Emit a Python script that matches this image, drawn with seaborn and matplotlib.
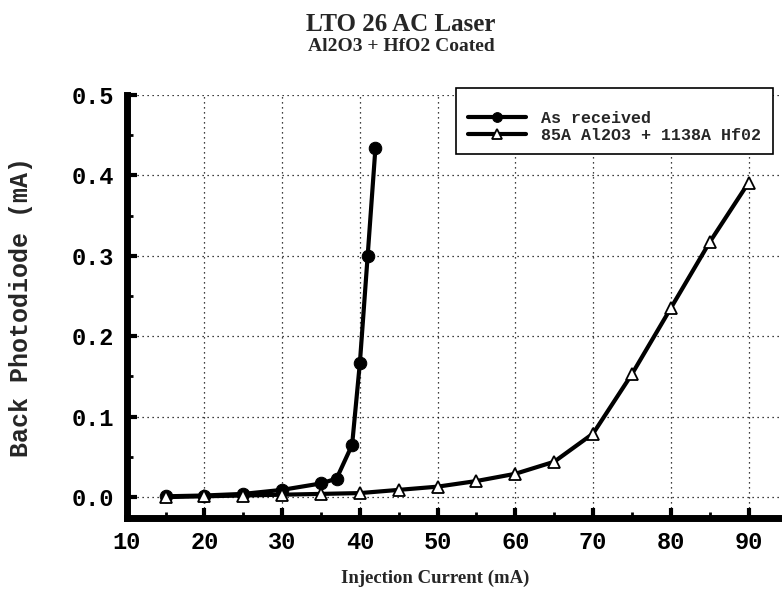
import numpy as np
import pandas as pd
import seaborn as sns
import matplotlib.pyplot as plt
from matplotlib.ticker import MultipleLocator

# Data
current_received = [15, 20, 25, 30, 35, 37, 39, 40, 41, 42]
photo_received = [0.001, 0.002, 0.004, 0.009, 0.017, 0.023, 0.065, 0.167, 0.300, 0.434]

current_coated = [15, 20, 25, 30, 35, 40, 45, 50, 55, 60, 65, 70, 75, 80, 85, 90]
photo_coated = [0.000, 0.001, 0.002, 0.003, 0.004, 0.005, 0.009, 0.013, 0.020,
                0.029, 0.044, 0.079, 0.153, 0.235, 0.317, 0.391]

label_received = "As received"
label_coated = "85A Al2O3 + 1138A Hf02"

sns.set_style("ticks")
mono = ["Liberation Mono", "DejaVu Sans Mono"]
serif = ["Liberation Serif", "DejaVu Serif"]

fig = plt.figure(figsize=(7.82, 5.9), dpi=100)
ax = fig.add_axes([0.162, 0.122, 0.835, 0.717])

df_r = pd.DataFrame({"x": current_received, "y": photo_received})
df_c = pd.DataFrame({"x": current_coated, "y": photo_coated})

sns.lineplot(data=df_r, x="x", y="y", ax=ax, color="black", linewidth=3,
             marker="o", markersize=9, markerfacecolor="black",
             markeredgecolor="black", label=label_received, zorder=3)
sns.lineplot(data=df_c, x="x", y="y", ax=ax, color="black", linewidth=3,
             marker="^", markersize=9, markerfacecolor="white",
             markeredgecolor="black", markeredgewidth=1.3,
             label=label_coated, zorder=3)

ax.set_xlim(10.2, 94)
ax.set_ylim(-0.026, 0.5)
ax.xaxis.set_minor_locator(MultipleLocator(5))
ax.yaxis.set_minor_locator(MultipleLocator(0.05))
ax.set_xticks(np.arange(10, 91, 10))
ax.set_yticks(np.arange(0, 0.51, 0.1))
ax.set_yticklabels([f"{v:.1f}" for v in np.arange(0, 0.51, 0.1)])

ax.grid(True, which="major", linestyle=(0, (1, 3)), color="black", linewidth=0.9)

for side in ["top", "right"]:
    ax.spines[side].set_visible(False)
for side in ["left", "bottom"]:
    ax.spines[side].set_linewidth(5)
    ax.spines[side].set_color("black")

ax.tick_params(which="major", direction="in", length=7, width=3, colors="black", pad=9)
ax.tick_params(which="minor", direction="in", length=4, width=2, colors="black")

for lbl in ax.get_xticklabels() + ax.get_yticklabels():
    lbl.set_family(mono)
    lbl.set_fontweight("bold")
    lbl.set_fontsize(17)

ax.set_xlabel("Injection Current (mA)", family=serif, fontweight="bold", fontsize=13.5)
ax.set_ylabel("Back Photodiode (mA)", family=mono, fontweight="bold", fontsize=18)
ax.xaxis.set_label_coords(0.472, -0.123)
ax.yaxis.set_label_coords(-0.144, 0.5)

leg = ax.legend(loc="upper right", bbox_to_anchor=(0.99, 1.017), frameon=True,
                fancybox=False, edgecolor="black", framealpha=1,
                prop={"family": mono, "weight": "bold", "size": 12},
                title=" ", title_fontsize=7,
                handlelength=3.5, handletextpad=0.9, borderpad=0.7,
                labelspacing=0.1, borderaxespad=0)
leg.get_frame().set_linewidth(1.2)
for h in leg.legend_handles:
    h.set_markersize(7)

fig.text(0.513, 0.958, "LTO 26 AC Laser", ha="center", va="center",
         family=serif, fontweight="bold", fontsize=18)
fig.text(0.513, 0.922, "Al2O3 + HfO2 Coated", ha="center", va="center",
         family=serif, fontweight="bold", fontsize=14)

fig.savefig("out.png", dpi=100)
